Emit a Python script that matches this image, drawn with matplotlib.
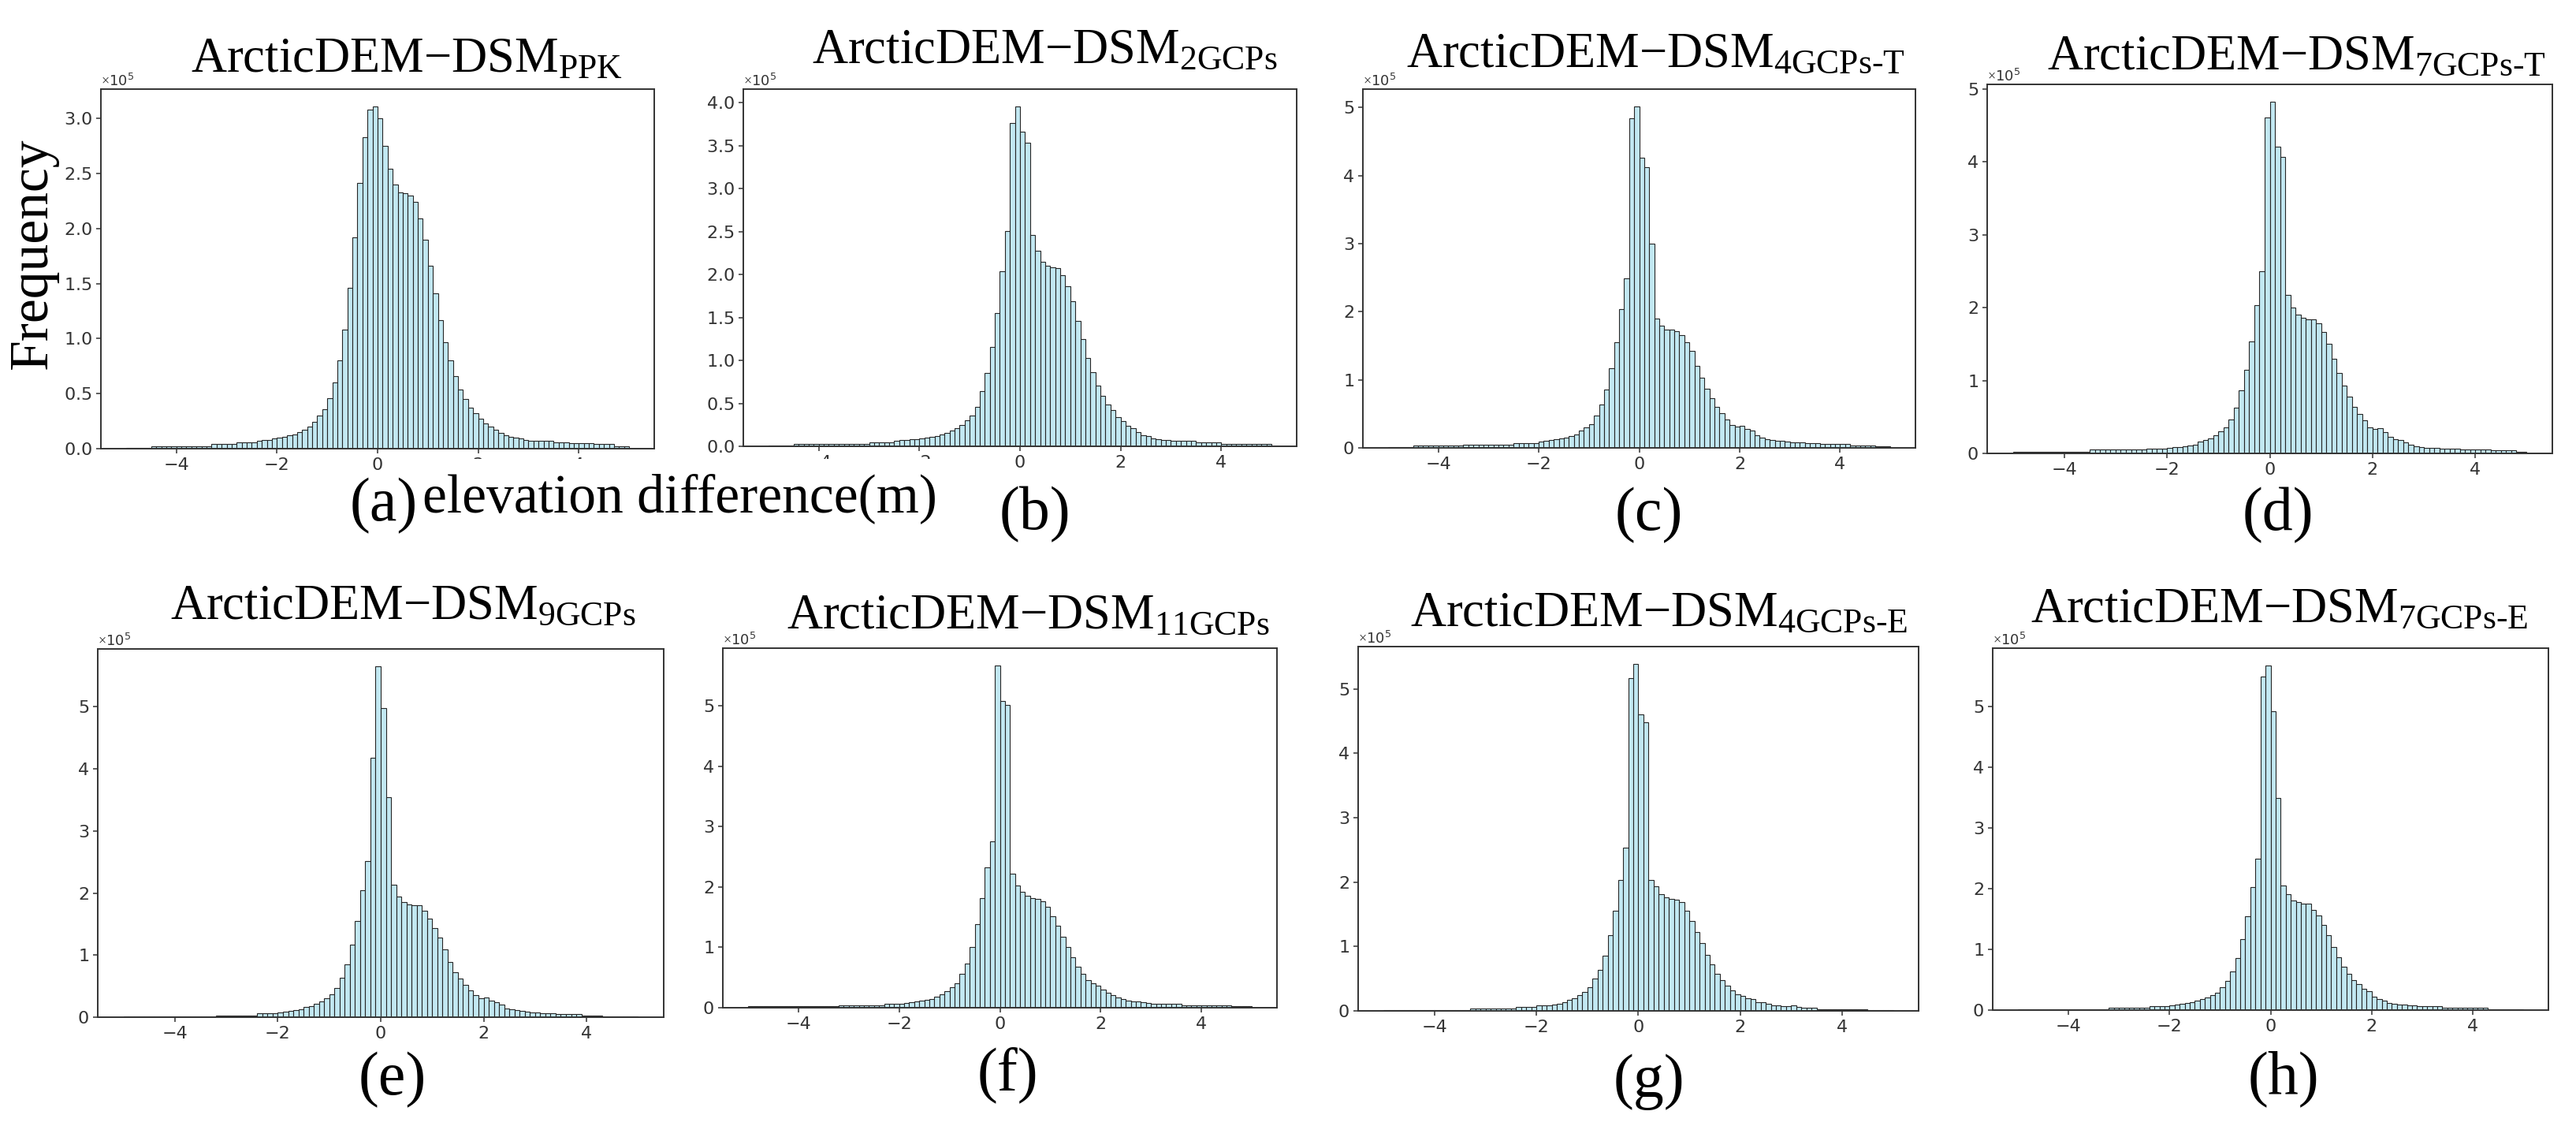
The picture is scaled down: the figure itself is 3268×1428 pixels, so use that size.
import numpy as np
import matplotlib

matplotlib.use("agg")
import matplotlib.pyplot as plt
from matplotlib.ticker import MultipleLocator
from matplotlib.patches import Rectangle

# histogram bins: 100 bins of 0.1 m between -5 and 5 m
BIN_EDGES = np.linspace(-5, 5, 101)
SCALE = 1e5

# bar heights in units of 1e5
ppk = [0.01, 0.01, 0.01, 0.01, 0.01, 0.02, 0.02, 0.02, 0.02, 0.02,
       0.02, 0.02, 0.02, 0.02, 0.02, 0.02, 0.02, 0.04, 0.04, 0.04,
       0.04, 0.04, 0.06, 0.06, 0.06, 0.06, 0.07, 0.08, 0.08, 0.09,
       0.10, 0.11, 0.12, 0.13, 0.15, 0.17, 0.20, 0.24, 0.30, 0.36,
       0.46, 0.60, 0.80, 1.08, 1.46, 1.92, 2.41, 2.83, 3.08, 3.11,
       3.00, 2.75, 2.54, 2.40, 2.33, 2.32, 2.30, 2.24, 2.09, 1.90,
       1.66, 1.41, 1.17, 0.97, 0.80, 0.66, 0.54, 0.45, 0.37, 0.32,
       0.27, 0.23, 0.20, 0.17, 0.145, 0.125, 0.11, 0.10, 0.09, 0.08,
       0.07, 0.07, 0.07, 0.07, 0.07, 0.06, 0.06, 0.06, 0.05, 0.05,
       0.05, 0.05, 0.05, 0.04, 0.04, 0.04, 0.04, 0.02, 0.02, 0.02]

gcp2 = [0.01, 0.01, 0.01, 0.01, 0.01, 0.03, 0.03, 0.03, 0.03, 0.03,
        0.03, 0.03, 0.03, 0.03, 0.03, 0.03, 0.03, 0.03, 0.03, 0.03,
        0.05, 0.05, 0.05, 0.05, 0.05, 0.06, 0.07, 0.07, 0.08, 0.08,
        0.09, 0.10, 0.11, 0.12, 0.14, 0.16, 0.18, 0.21, 0.25, 0.30,
        0.36, 0.46, 0.64, 0.85, 1.16, 1.55, 2.04, 2.51, 3.76, 3.96,
        3.66, 3.53, 2.46, 2.28, 2.15, 2.10, 2.08, 2.07, 1.99, 1.86,
        1.69, 1.46, 1.25, 1.03, 0.86, 0.71, 0.59, 0.49, 0.42, 0.34,
        0.29, 0.24, 0.21, 0.165, 0.13, 0.115, 0.095, 0.085, 0.075, 0.07,
        0.06, 0.06, 0.06, 0.06, 0.06, 0.05, 0.05, 0.05, 0.05, 0.05,
        0.03, 0.03, 0.03, 0.03, 0.03, 0.03, 0.03, 0.03, 0.03, 0.03]

gcp4t = [0.015, 0.015, 0.015, 0.015, 0.015, 0.03, 0.03, 0.03, 0.03, 0.03,
         0.03, 0.03, 0.03, 0.03, 0.03, 0.05, 0.05, 0.05, 0.05, 0.05,
         0.05, 0.05, 0.05, 0.05, 0.05, 0.07, 0.07, 0.07, 0.07, 0.07,
         0.09, 0.10, 0.12, 0.13, 0.14, 0.15, 0.17, 0.20, 0.25, 0.30,
         0.35, 0.48, 0.64, 0.86, 1.17, 1.55, 2.04, 2.49, 4.84, 5.02,
         4.26, 4.12, 3.00, 1.90, 1.79, 1.74, 1.74, 1.72, 1.66, 1.55,
         1.42, 1.21, 1.03, 0.87, 0.73, 0.60, 0.51, 0.42, 0.34, 0.31,
         0.33, 0.28, 0.25, 0.19, 0.15, 0.13, 0.12, 0.11, 0.10, 0.09,
         0.08, 0.08, 0.08, 0.07, 0.07, 0.07, 0.06, 0.06, 0.06, 0.06,
         0.06, 0.06, 0.04, 0.04, 0.04, 0.04, 0.04, 0.02, 0.02, 0.02]

gcp7t = [0.02, 0.02, 0.02, 0.02, 0.02, 0.02, 0.02, 0.02, 0.02, 0.02,
         0.02, 0.02, 0.02, 0.02, 0.02, 0.05, 0.05, 0.05, 0.05, 0.05,
         0.05, 0.05, 0.05, 0.05, 0.05, 0.05, 0.07, 0.07, 0.07, 0.07,
         0.08, 0.09, 0.09, 0.10, 0.11, 0.12, 0.16, 0.18, 0.21, 0.25,
         0.30, 0.36, 0.47, 0.63, 0.86, 1.15, 1.54, 2.03, 2.50, 4.61,
         4.82, 4.21, 4.07, 2.17, 2.00, 1.90, 1.86, 1.84, 1.84, 1.78,
         1.66, 1.50, 1.30, 1.10, 0.93, 0.78, 0.64, 0.54, 0.45, 0.36,
         0.33, 0.35, 0.29, 0.23, 0.20, 0.18, 0.15, 0.12, 0.10, 0.09,
         0.08, 0.08, 0.08, 0.07, 0.07, 0.07, 0.07, 0.05, 0.05, 0.05,
         0.05, 0.05, 0.05, 0.04, 0.04, 0.04, 0.04, 0.04, 0.02, 0.02]

gcp9 = [0.01, 0.01, 0.01, 0.01, 0.01, 0.01, 0.01, 0.01, 0.01, 0.01,
        0.01, 0.01, 0.01, 0.01, 0.01, 0.01, 0.01, 0.01, 0.03, 0.03,
        0.03, 0.03, 0.03, 0.03, 0.03, 0.03, 0.06, 0.06, 0.06, 0.06,
        0.08, 0.09, 0.10, 0.11, 0.13, 0.16, 0.18, 0.21, 0.25, 0.30,
        0.37, 0.47, 0.63, 0.85, 1.17, 1.55, 2.04, 2.51, 4.18, 5.65,
        4.98, 3.55, 2.13, 1.94, 1.85, 1.82, 1.81, 1.80, 1.72, 1.59,
        1.44, 1.28, 1.09, 0.89, 0.73, 0.62, 0.52, 0.43, 0.36, 0.30,
        0.32, 0.27, 0.24, 0.20, 0.14, 0.13, 0.11, 0.10, 0.09, 0.08,
        0.07, 0.06, 0.06, 0.06, 0.05, 0.05, 0.05, 0.05, 0.05, 0.03,
        0.03, 0.03, 0.03, 0.01, 0.01, 0.01, 0.01, 0.01, 0.01, 0.01]

gcp11 = [0.02, 0.02, 0.02, 0.02, 0.02, 0.02, 0.02, 0.02, 0.02, 0.02,
         0.02, 0.02, 0.02, 0.02, 0.02, 0.02, 0.02, 0.02, 0.04, 0.04,
         0.04, 0.04, 0.04, 0.04, 0.04, 0.04, 0.04, 0.06, 0.06, 0.06,
         0.07, 0.08, 0.09, 0.10, 0.12, 0.13, 0.15, 0.18, 0.22, 0.27,
         0.34, 0.41, 0.56, 0.73, 1.01, 1.38, 1.82, 2.32, 2.76, 5.67,
         5.08, 5.02, 2.22, 2.03, 1.92, 1.85, 1.82, 1.80, 1.76, 1.67,
         1.52, 1.36, 1.17, 1.01, 0.84, 0.68, 0.56, 0.46, 0.40, 0.37,
         0.30, 0.25, 0.21, 0.17, 0.14, 0.12, 0.11, 0.10, 0.09, 0.08,
         0.07, 0.07, 0.07, 0.06, 0.06, 0.06, 0.04, 0.04, 0.04, 0.04,
         0.04, 0.04, 0.04, 0.04, 0.04, 0.04, 0.02, 0.02, 0.02, 0.02]

gcp4e = [0.015, 0.015, 0.015, 0.015, 0.015, 0.015, 0.015, 0.015, 0.015, 0.015,
         0.015, 0.015, 0.015, 0.015, 0.015, 0.015, 0.015, 0.04, 0.04, 0.04,
         0.04, 0.04, 0.04, 0.04, 0.04, 0.04, 0.06, 0.06, 0.06, 0.06,
         0.08, 0.09, 0.09, 0.10, 0.11, 0.14, 0.17, 0.19, 0.24, 0.29,
         0.37, 0.50, 0.64, 0.86, 1.17, 1.55, 2.03, 2.53, 5.17, 5.39,
         4.61, 4.48, 2.03, 1.94, 1.81, 1.76, 1.74, 1.73, 1.69, 1.56,
         1.40, 1.22, 1.05, 0.87, 0.72, 0.58, 0.48, 0.39, 0.32, 0.26,
         0.23, 0.20, 0.18, 0.14, 0.13, 0.11, 0.09, 0.08, 0.07, 0.07,
         0.09, 0.06, 0.045, 0.045, 0.045, 0.03, 0.03, 0.03, 0.03, 0.03,
         0.03, 0.03, 0.03, 0.03, 0.03, 0.01, 0.01, 0.01, 0.01, 0.01]

gcp7e = [0.015, 0.015, 0.015, 0.015, 0.015, 0.015, 0.015, 0.015, 0.015, 0.015,
         0.015, 0.015, 0.015, 0.015, 0.015, 0.015, 0.015, 0.015, 0.04, 0.04,
         0.04, 0.04, 0.04, 0.04, 0.04, 0.04, 0.07, 0.07, 0.07, 0.07,
         0.08, 0.09, 0.11, 0.12, 0.13, 0.15, 0.18, 0.21, 0.25, 0.29,
         0.38, 0.48, 0.64, 0.86, 1.17, 1.54, 2.03, 2.50, 5.50, 5.68,
         4.92, 3.50, 2.05, 1.91, 1.81, 1.78, 1.76, 1.75, 1.65, 1.56,
         1.40, 1.24, 1.04, 0.87, 0.72, 0.60, 0.50, 0.43, 0.35, 0.31,
         0.22, 0.18, 0.15, 0.12, 0.10, 0.09, 0.09, 0.08, 0.08, 0.07,
         0.06, 0.06, 0.06, 0.06, 0.04, 0.04, 0.04, 0.04, 0.04, 0.04,
         0.04, 0.04, 0.04, 0.015, 0.015, 0.015, 0.015, 0.015, 0.015, 0.015]

series = [ppk, gcp2, gcp4t, gcp7t, gcp9, gcp11, gcp4e, gcp7e]
subscripts = ["PPK", "2GCPs", "4GCPs-T", "7GCPs-T", "9GCPs", "11GCPs", "4GCPs-E", "7GCPs-E"]
letters = ["(a)", "(b)", "(c)", "(d)", "(e)", "(f)", "(g)", "(h)"]
y_steps = [0.5, 0.5, 1, 1, 1, 1, 1, 1]

W, H = 3268, 1428
# axes boxes in pixels: left, top, right, bottom
RECTS = [(128, 113, 830, 569), (943, 113, 1645, 566), (1729, 113, 2430, 568), (2521, 107, 3238, 575),
         (124, 823, 842, 1290), (917, 822, 1620, 1278), (1723, 820, 2434, 1282), (2528, 822, 3233, 1281)]
TITLE_POS = [(516, 91), (1325, 80), (2100, 85), (2913, 88),
             (511, 785), (1304, 797), (2105, 794), (2892, 789)]
LETTER_POS = [(487, 642), (1313, 653), (2092, 654), (2890, 654),
              (498, 1370), (1278, 1363), (2092, 1372), (2897, 1368)]

SERIF = "Liberation Serif"
plt.rcParams["mathtext.fontset"] = "custom"
plt.rcParams["mathtext.rm"] = SERIF
plt.rcParams["mathtext.it"] = SERIF + ":italic"

fig = plt.figure(figsize=(W / 100, H / 100), dpi=100)

for i in range(8):
    l, t, r, b = RECTS[i]
    ax = fig.add_axes([l / W, 1 - b / H, (r - l) / W, (b - t) / H])
    vals = np.array(series[i]) * SCALE
    ax.bar(BIN_EDGES[:-1], vals, width=0.1, align="edge",
           color="#c2e8f2", edgecolor="#262626", linewidth=0.8)
    ax.set_xticks([-4, -2, 0, 2, 4])
    ax.yaxis.set_major_locator(MultipleLocator(y_steps[i] * SCALE))
    ax.ticklabel_format(axis="y", style="sci", scilimits=(0, 0), useMathText=True)
    ax.yaxis.get_offset_text().set_fontsize(13)
    ax.yaxis.get_offset_text().set_color("#333333")
    ax.tick_params(labelsize=16, colors="#333333", length=4.5, width=1.1)
    for s in ax.spines.values():
        s.set_color("#333333")
        s.set_linewidth(1.4)

    tx, ty = TITLE_POS[i]
    fig.text(tx / W, 1 - ty / H, "ArcticDEM\u2212DSM$_{\\text{%s}}$" % subscripts[i],
             ha="center", va="baseline", fontsize=45, family=SERIF)
    lx, ly = LETTER_POS[i]
    fig.text(lx / W, 1 - ly / H, letters[i], ha="center", va="center", fontsize=56, family=SERIF)

# the shared x label sits on a white box that hides a few tick labels
fig.add_artist(Rectangle((585 / W, 1 - 700 / H), 650 / W, 118 / H, transform=fig.transFigure,
                         facecolor="white", edgecolor="none", zorder=2))
fig.text(862 / W, 1 - 632 / H, "elevation difference(m)", ha="center", va="center",
         fontsize=50, family=SERIF, zorder=3)
fig.text(42 / W, 1 - 321 / H, "Frequency", rotation=90, ha="center", va="center",
         fontsize=50, family=SERIF)

fig.savefig("out.png", dpi=100)
